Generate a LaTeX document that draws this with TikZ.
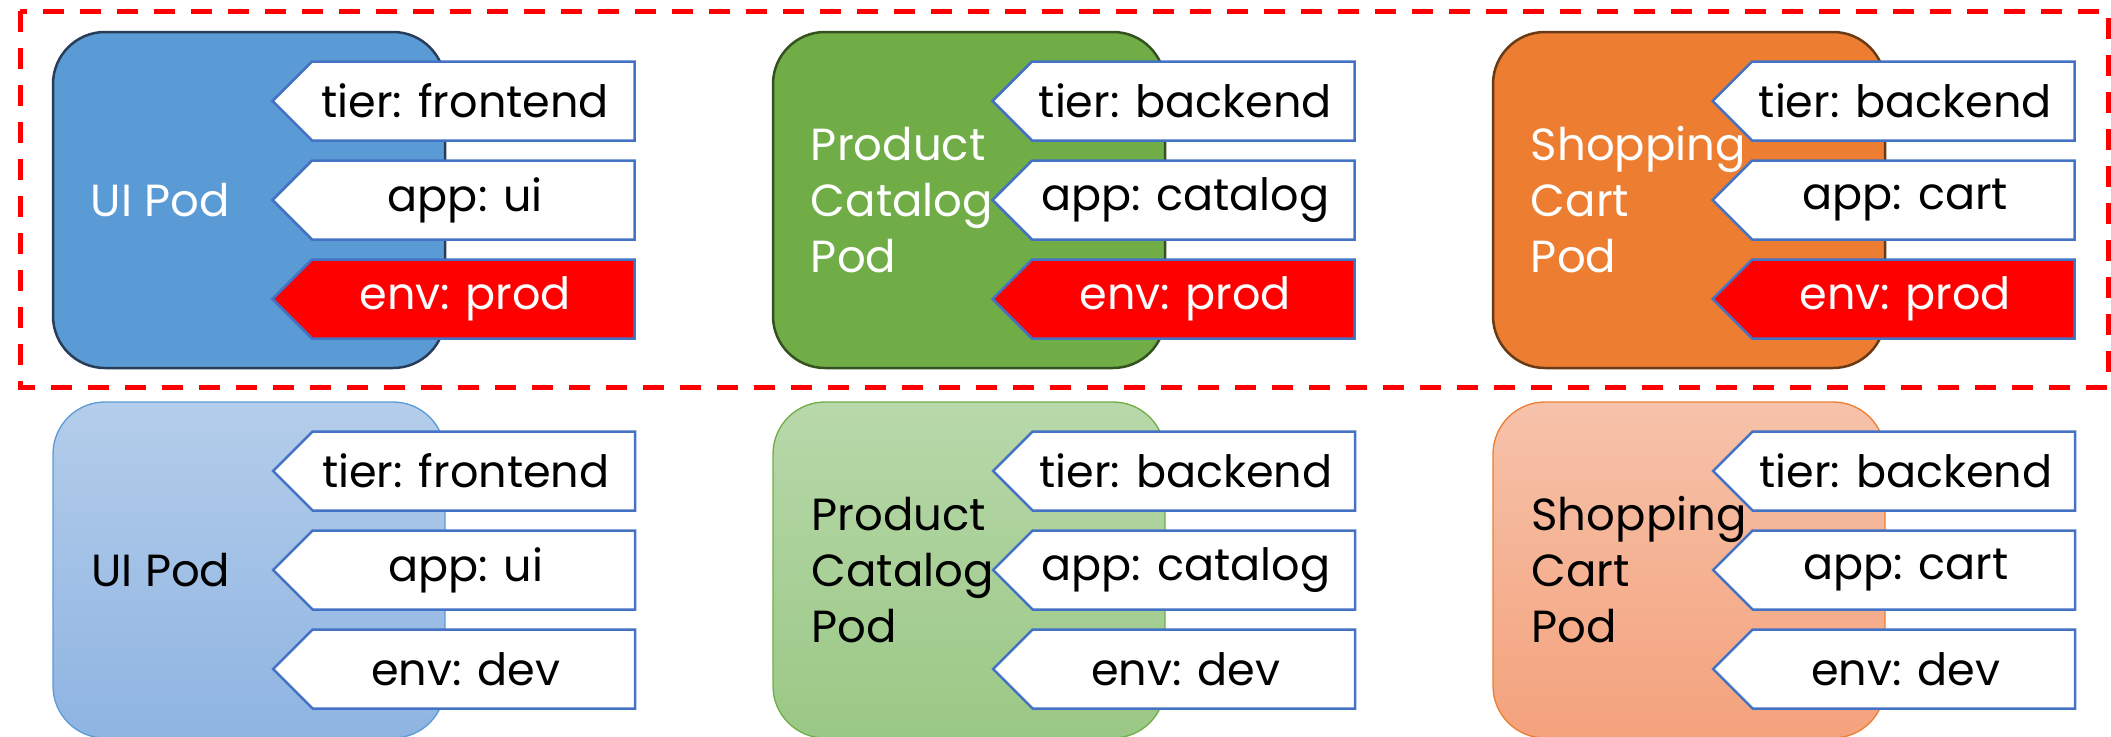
\documentclass[tikz,border=0pt]{standalone}
\usepackage{fontspec}
\setmainfont{Poppins}
\usepackage{tikz}
\usetikzlibrary{arrows,shapes,shapes.symbols}
\definecolor{podblue}{RGB}{91,155,213}
\definecolor{podgreen}{RGB}{112,173,71}
\definecolor{podorange}{RGB}{237,125,49}
\definecolor{edgeblue}{RGB}{40,62,88}
\definecolor{edgegreen}{RGB}{52,82,32}
\definecolor{edgeorange}{RGB}{104,58,22}
\definecolor{tagedge}{RGB}{68,114,196}

\begin{document}
\begin{tikzpicture}[x=1pt,y=-1pt,node distance=720pt]
 \tikzstyle{pod}=[rectangle,rounded corners=52pt,minimum width=392pt,minimum height=336pt,line width=2.5pt]
 \tikzstyle{devpod}=[pod,line width=1.3pt]
 \tikzstyle{tag}=[signal,signal to=west,signal pointer angle=90,draw=tagedge,line width=2.5pt,fill=white,
   minimum width=362pt,minimum height=79pt,inner sep=0pt,font=\fontsize{44.5}{52}\selectfont,
   execute at end node={\hspace*{16pt}}]
 \tikzstyle{prodtag}=[tag,fill=red,text=white]
 \tikzstyle{podtext}=[anchor=west,align=left,inner sep=0pt,font=\fontsize{45}{56}\selectfont]
 \useasboundingbox (0,0) rectangle (2111,736);

   % selected pods (env: prod)
   \node[pod,fill=podblue,draw=edgeblue] (ui) at (249,200) {};
   \node[pod,fill=podgreen,draw=edgegreen] (catalog) [right of = ui] {};
   \node[pod,fill=podorange,draw=edgeorange] (cart) [right of = catalog] {};
   % dev pods
   \node[devpod,top color={rgb,255:red,180;green,205;blue,234},bottom color={rgb,255:red,142;green,180;blue,226},draw=podblue,node distance=370pt] (uidev) [below of = ui] {};
   \node[devpod,top color={rgb,255:red,184;green,216;blue,170},bottom color={rgb,255:red,154;green,200;blue,133},draw=podgreen] (catalogdev) [right of = uidev] {};
   \node[devpod,top color={rgb,255:red,246;green,194;blue,170},bottom color={rgb,255:red,244;green,162;blue,124},draw=podorange] (cartdev) [right of = catalogdev] {};

   % labels
   \node[tag,anchor=east] (uiapp) at ([xshift=584pt]ui.west) {app: ui};
   \node[tag,node distance=99pt] (uitier) [above of = uiapp] {tier: frontend};
   \node[prodtag,node distance=99pt] (uienv) [below of = uiapp] {env: prod};
   \node[tag,anchor=east] (catalogapp) at ([xshift=584pt]catalog.west) {app: catalog};
   \node[tag,node distance=99pt] (catalogtier) [above of = catalogapp] {tier: backend};
   \node[prodtag,node distance=99pt] (catalogenv) [below of = catalogapp] {env: prod};
   \node[tag,anchor=east] (cartapp) at ([xshift=584pt]cart.west) {app: cart};
   \node[tag,node distance=99pt] (carttier) [above of = cartapp] {tier: backend};
   \node[prodtag,node distance=99pt] (cartenv) [below of = cartapp] {env: prod};

   \node[tag,anchor=east] (uidevapp) at ([xshift=584pt]uidev.west) {app: ui};
   \node[tag,node distance=99pt] (uidevtier) [above of = uidevapp] {tier: frontend};
   \node[tag,node distance=99pt] (uidevenv) [below of = uidevapp] {env: dev};
   \node[tag,anchor=east] (catalogdevapp) at ([xshift=584pt]catalogdev.west) {app: catalog};
   \node[tag,node distance=99pt] (catalogdevtier) [above of = catalogdevapp] {tier: backend};
   \node[tag,node distance=99pt] (catalogdevenv) [below of = catalogdevapp] {env: dev};
   \node[tag,anchor=east] (cartdevapp) at ([xshift=584pt]cartdev.west) {app: cart};
   \node[tag,node distance=99pt] (cartdevtier) [above of = cartdevapp] {tier: backend};
   \node[tag,node distance=99pt] (cartdevenv) [below of = cartdevapp] {env: dev};

   % pod names
   \node[podtext,text=white] (uiname) at ([xshift=39pt]ui.west) {UI Pod};
   \node[podtext,text=white] (catalogname) at ([xshift=39pt]catalog.west) {Product\\Catalog\\Pod};
   \node[podtext,text=white] (cartname) at ([xshift=39pt]cart.west) {Shopping\\Cart\\Pod};
   \node[podtext] (uidevname) at ([xshift=39pt]uidev.west) {UI Pod};
   \node[podtext] (catalogdevname) at ([xshift=39pt]catalogdev.west) {Product\\Catalog\\Pod};
   \node[podtext] (cartdevname) at ([xshift=39pt]cartdev.west) {Shopping\\Cart\\Pod};

   % selection
   \draw[red,dashed,line width=5pt,dash pattern=on 21pt off 16pt] (20,11) rectangle (2108,387);
\end{tikzpicture}
\end{document}
